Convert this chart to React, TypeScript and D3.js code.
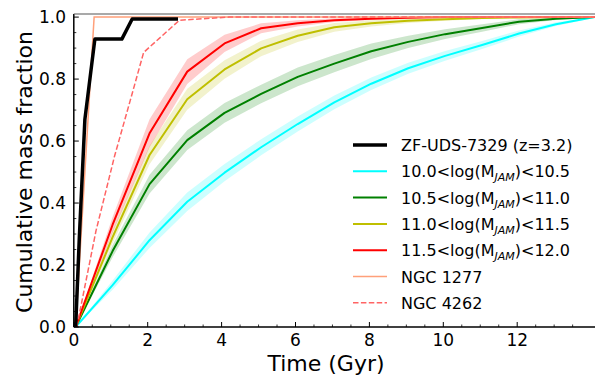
import React from "react";
import * as d3 from "d3";

const TIMES = [0.05, 1.05, 2.05, 3.07, 4.08, 5.07, 6.06, 7.05, 8.05, 9.05, 10.05, 11.05, 12.05, 13.05, 14.1];
const CYAN_VALS = [0, 0.135, 0.28, 0.404, 0.498, 0.58, 0.655, 0.725, 0.785, 0.835, 0.875, 0.91, 0.947, 0.977, 1.0];
const GREEN_VALS = [0, 0.245, 0.461, 0.603, 0.691, 0.752, 0.807, 0.85, 0.89, 0.92, 0.945, 0.965, 0.985, 0.995, 1.0];
const OLIVE_VALS = [0, 0.29, 0.555, 0.735, 0.831, 0.899, 0.94, 0.967, 0.98, 0.988, 0.993, 0.997, 0.999, 1.0, 1.0];
const RED_VALS = [0, 0.33, 0.625, 0.824, 0.915, 0.964, 0.98, 0.99, 0.995, 0.998, 1.0, 1.0, 1.0, 1.0, 1.0];

const CYAN_ERR = [0, 0.015, 0.025, 0.03, 0.028, 0.026, 0.024, 0.022, 0.02, 0.018, 0.016, 0.013, 0.01, 0.006, 0.002];
const GREEN_ERR = [0, 0.02, 0.03, 0.032, 0.032, 0.03, 0.03, 0.028, 0.025, 0.02, 0.016, 0.012, 0.008, 0.004, 0.001];
const OLIVE_ERR = [0, 0.02, 0.03, 0.034, 0.03, 0.025, 0.02, 0.014, 0.01, 0.007, 0.005, 0.003, 0.002, 0.001, 0];
const RED_ERR = [0, 0.025, 0.045, 0.04, 0.028, 0.016, 0.01, 0.006, 0.004, 0.002, 0.001, 0, 0, 0, 0];

const ZF_T = [0.05, 0.15, 0.3, 0.57, 1.3, 1.58, 2.82];
const ZF_V = [0, 0.29, 0.67, 0.929, 0.929, 0.994, 0.994];

const N1277_T = [0.05, 0.55, 14.1];
const N1277_V = [0, 1.0, 1.0];

const N4262_T = [0.08, 0.6, 1.1, 1.53, 1.89, 2.86, 4.2, 14.1];
const N4262_V = [0, 0.31, 0.55, 0.732, 0.886, 0.99, 1.0, 1.0];

const X_TICKS = [0, 2, 4, 6, 8, 10, 12];
const Y_TICKS = [0, 0.2, 0.4, 0.6, 0.8, 1.0];

const BINS = [
  { lo: "10.0", hi: "10.5", vals: CYAN_VALS, err: CYAN_ERR, color: "#00ffff" },
  { lo: "10.5", hi: "11.0", vals: GREEN_VALS, err: GREEN_ERR, color: "#008000" },
  { lo: "11.0", hi: "11.5", vals: OLIVE_VALS, err: OLIVE_ERR, color: "#bfbf00" },
  { lo: "11.5", hi: "12.0", vals: RED_VALS, err: RED_ERR, color: "#ff0000" },
];

const FONT = "DejaVu Sans, sans-serif";

export default function App() {
  const W = 595, H = 376;
  const left = 73.8, right = 595, top = 14, bottom = 327;
  const x = d3.scaleLinear().domain([0, 14.1]).range([left, left + 14.1 * 36.95]);
  const y = d3.scaleLinear().domain([0, 1.01]).range([bottom, top]);

  const line = d3.line<[number, number]>().x(d => x(d[0])).y(d => y(d[1]));
  const area = d3.area<[number, number, number]>().x(d => x(d[0])).y0(d => y(d[1])).y1(d => y(d[2]));

  const xMinor = d3.range(0, 14.01, 0.5).filter(v => Math.abs(v / 2 - Math.round(v / 2)) > 1e-6);
  const yMinor = d3.range(0, 1.001, 0.05).filter(v => Math.abs(v * 5 - Math.round(v * 5)) > 1e-6);

  const legendItems = [
    { kind: "zf", color: "#000", width: 3.5, dash: undefined },
    ...BINS.map(b => ({ kind: "bin", color: b.color, width: 2, dash: undefined, b })),
    { kind: "n1277", color: "#ffa07a", width: 1.5, dash: undefined },
    { kind: "n4262", color: "#ff6464", width: 1.5, dash: "5.5,2.4" },
  ];

  return (
    <svg width={W} height={H} style={{ position: "absolute", left: 0, top: 0 }} fontFamily={FONT}>
      <defs>
        <clipPath id="plot">
          <rect x={left} y={top} width={right - left} height={bottom - top} />
        </clipPath>
      </defs>
      <rect x={0} y={0} width={W} height={H} fill="#fff" />
      <g clipPath="url(#plot)">
        {BINS.map((b, i) => (
          <path key={"a" + i}
            d={area(TIMES.map((t, j) => [t, b.vals[j] - b.err[j], Math.min(1.0, b.vals[j] + b.err[j])] as [number, number, number])) || ""}
            fill={b.color} fillOpacity={0.2} stroke="none" />
        ))}
        {BINS.map((b, i) => (
          <path key={"l" + i}
            d={line(TIMES.map((t, j) => [t, b.vals[j]] as [number, number])) || ""}
            fill="none" stroke={b.color} strokeWidth={2} strokeLinejoin="round" />
        ))}
        <path d={line(N1277_T.map((t, j) => [t, N1277_V[j]] as [number, number])) || ""}
          fill="none" stroke="#ffa07a" strokeWidth={1.5} />
        <path d={line(N4262_T.map((t, j) => [t, N4262_V[j]] as [number, number])) || ""}
          fill="none" stroke="#ff6464" strokeWidth={1.5} strokeDasharray="5.5,2.4" />
        <path d={line(ZF_T.map((t, j) => [t, ZF_V[j]] as [number, number])) || ""}
          fill="none" stroke="#000" strokeWidth={3.5} strokeLinejoin="round" />
      </g>

      {/* spines */}
      <line x1={left} x2={right} y1={bottom} y2={bottom} stroke="#000" strokeWidth={1.5} />
      <line x1={left} x2={left} y1={top} y2={bottom} stroke="#000" strokeWidth={1.5} />
      <line x1={left} x2={right} y1={top} y2={top} stroke="#555" strokeWidth={1.2} />

      {/* x ticks */}
      {X_TICKS.map(t => (
        <g key={"xt" + t}>
          <line x1={x(t)} x2={x(t)} y1={bottom} y2={bottom - 5} stroke="#000" strokeWidth={1} />
          <text x={x(t)} y={346} textAnchor="middle" fontSize={17}>{t}</text>
        </g>
      ))}
      {xMinor.map(t => (
        <line key={"xm" + t} x1={x(t)} x2={x(t)} y1={bottom} y2={bottom - 2.5} stroke="#000" strokeWidth={0.8} />
      ))}
      {/* y ticks */}
      {Y_TICKS.map(v => (
        <g key={"yt" + v}>
          <line x1={left} x2={left + 5} y1={y(v)} y2={y(v)} stroke="#000" strokeWidth={1} />
          <text x={66} y={y(v) + 6.2} textAnchor="end" fontSize={17}>{v.toFixed(1)}</text>
        </g>
      ))}
      {yMinor.map(v => (
        <line key={"ym" + v} x1={left} x2={left + 2.5} y1={y(v)} y2={y(v)} stroke="#000" strokeWidth={0.8} />
      ))}

      <text x={326} y={371} textAnchor="middle" fontSize={22}>Time (Gyr)</text>
      <text transform={`translate(32,172) rotate(-90)`} textAnchor="middle" fontSize={22}>Cumulative mass fraction</text>

      {/* legend */}
      {legendItems.map((it: any, i) => {
        const cy = 145 + i * 26.3;
        let label: React.ReactNode;
        if (it.kind === "zf") label = "ZF-UDS-7329 (z=3.2)";
        else if (it.kind === "n1277") label = "NGC 1277";
        else if (it.kind === "n4262") label = "NGC 4262";
        else label = (
          <>
            {it.b.lo + "<log(M"}
            <tspan fontSize={11} fontStyle="italic" dy={4}>JAM</tspan>
            <tspan dy={-4}>{")<" + it.b.hi}</tspan>
          </>
        );
        return (
          <g key={"lg" + i}>
            <line x1={353} x2={387} y1={cy} y2={cy} stroke={it.color} strokeWidth={it.width} strokeDasharray={it.dash} />
            <text x={401} y={cy + 6} fontSize={16}>{label}</text>
          </g>
        );
      })}
    </svg>
  );
}
